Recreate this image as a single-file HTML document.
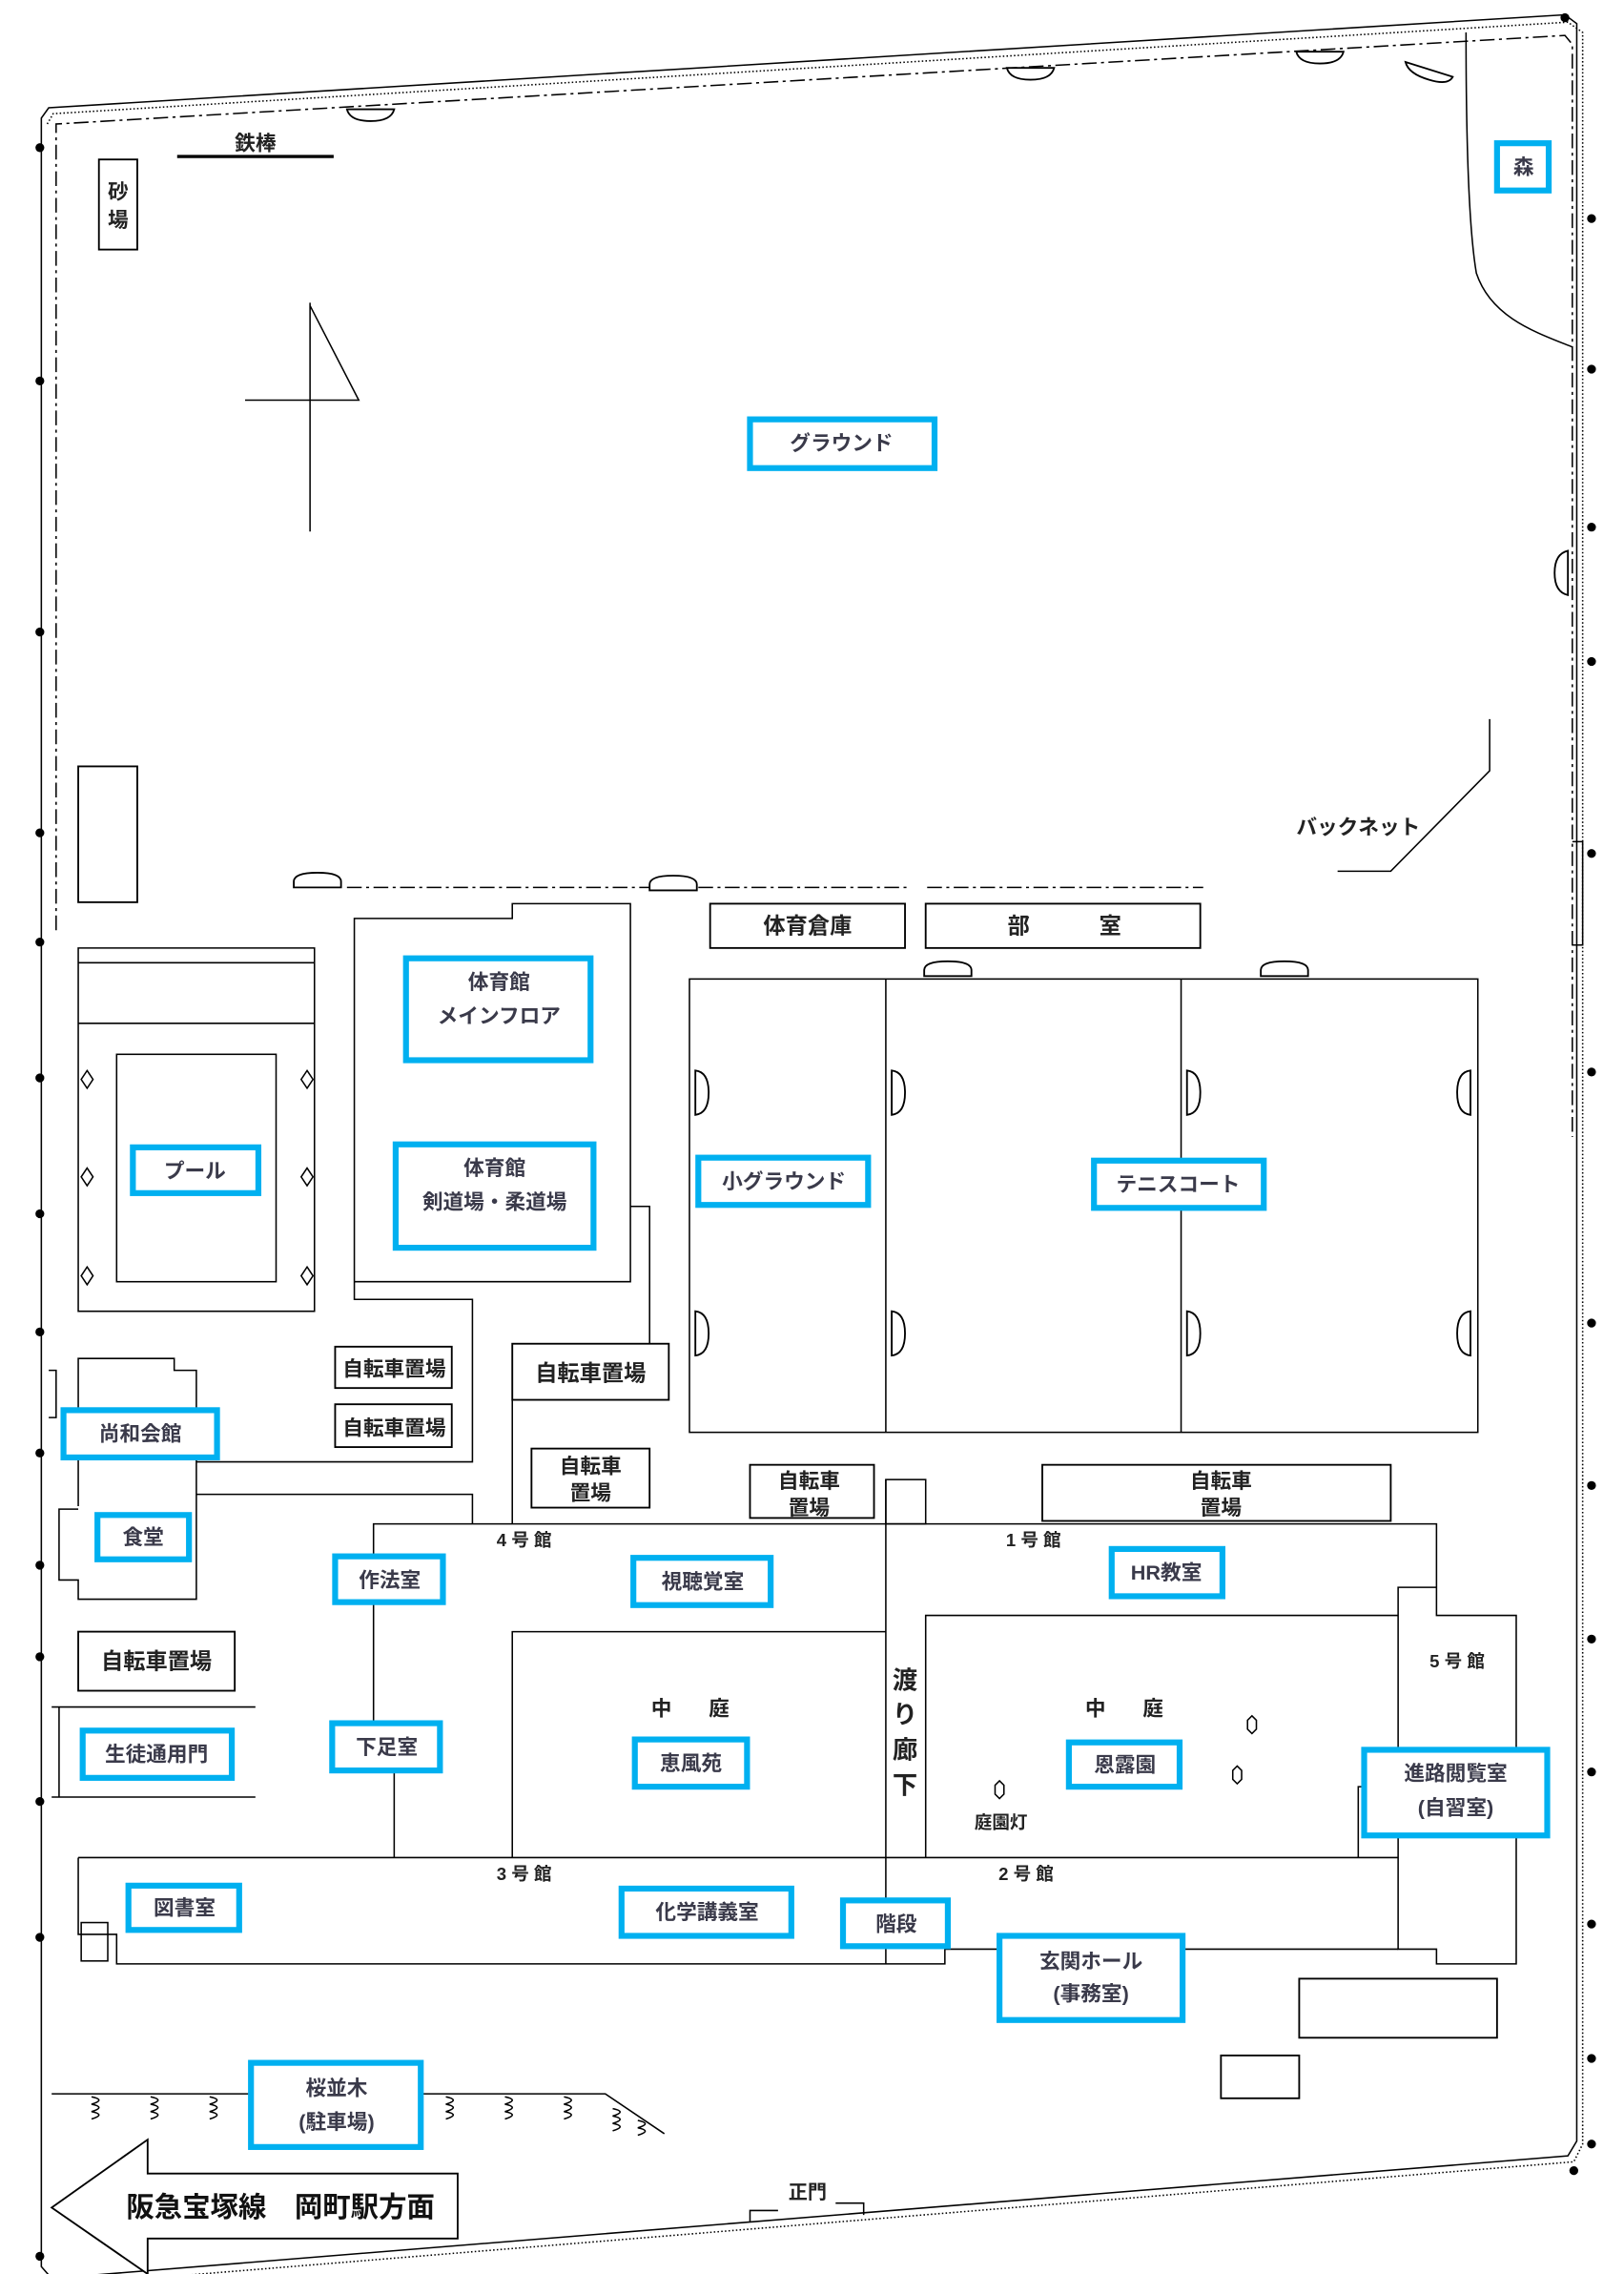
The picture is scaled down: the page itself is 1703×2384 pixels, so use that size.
<!DOCTYPE html>
<html><head><meta charset="utf-8"><style>
html,body{margin:0;padding:0;background:#fff}
svg{display:block}
text{font-family:"Liberation Sans","Noto Sans CJK JP",sans-serif;font-weight:bold;fill:#222;text-anchor:middle;dominant-baseline:central}
.b{fill:#fff;stroke:#00b0f0;stroke-width:4}
.l{fill:none;stroke:#000;stroke-width:1}
.k{fill:#fff;stroke:#000;stroke-width:1.2}
.t{font-size:14px;fill:#3a3a4a}
</style></head><body>
<svg width="1703" height="2384" viewBox="0 0 1100 1540" preserveAspectRatio="none" xmlns="http://www.w3.org/2000/svg">
<!-- outer boundary -->
<path class="l" d="M28 80 L33 73 L1060 10 L1068 16 L1068 1450 L1062 1460 L35 1543 L28 1535 Z" stroke-width="1.3"/>
<path class="l" d="M32 84 L36 77 L1062 15 L1072 22 L1072 1452 L1066 1464 L38 1548" stroke-dasharray="1 1.5" stroke-width="0.8"/>
<path class="l" d="M38 630 L38 84 L1060 24 L1065 30 L1065 770" stroke-dasharray="10 3 2 3"/>
<g fill="#000">
<circle cx="27" cy="100" r="3"/><circle cx="27" cy="258" r="3"/><circle cx="27" cy="428" r="3"/><circle cx="27" cy="564" r="3"/><circle cx="27" cy="638" r="3"/><circle cx="27" cy="730" r="3"/><circle cx="27" cy="822" r="3"/><circle cx="27" cy="902" r="3"/><circle cx="27" cy="984" r="3"/><circle cx="27" cy="1060" r="3"/><circle cx="27" cy="1122" r="3"/><circle cx="27" cy="1220" r="3"/><circle cx="27" cy="1312" r="3"/><circle cx="27" cy="1528" r="3"/>
<circle cx="1060" cy="12" r="3"/><circle cx="1078" cy="148" r="3"/><circle cx="1078" cy="250" r="3"/><circle cx="1078" cy="357" r="3"/><circle cx="1078" cy="448" r="3"/><circle cx="1078" cy="578" r="3"/><circle cx="1078" cy="726" r="3"/><circle cx="1078" cy="896" r="3"/><circle cx="1078" cy="1006" r="3"/><circle cx="1078" cy="1110" r="3"/><circle cx="1078" cy="1200" r="3"/><circle cx="1078" cy="1303" r="3"/><circle cx="1078" cy="1394" r="3"/><circle cx="1078" cy="1452" r="3"/><circle cx="1066" cy="1470" r="3"/>
</g>
<!-- lamps top -->
<g class="k">
<path d="M235 74 h32 q-2 8 -16 8 q-14 0 -16 -8z"/>
<path d="M682 46 h32 q-2 8 -16 8 q-14 0 -16 -8z"/>
<path d="M878 35 h32 q-2 8 -16 8 q-14 0 -16 -8z"/>
<path d="M952 42 l32 10 q-3 6 -16 2 q-14 -4 -16 -12z"/>
<path d="M1062 373 v30 q-9 -2 -9 -15 q0 -13 9 -15z"/>
</g>
<!-- forest curve -->
<path class="l" d="M993 22 C993 80 994 150 1000 185 C1010 215 1040 225 1065 235"/>
<rect class="b" x="1014" y="97" width="35" height="32"/><text x="1032" y="113" class="t">森</text>
<!-- 鉄棒 -->
<text x="173" y="97" font-size="14">鉄棒</text>
<line x1="120" y1="106" x2="226" y2="106" stroke="#000" stroke-width="2.2"/>
<rect class="k" x="67" y="108" width="26" height="61"/>
<text x="80" y="130" font-size="14">砂</text><text x="80" y="149" font-size="14">場</text>
<!-- compass -->
<path class="l" d="M210 205 V360 M166 271 H243 L210 207"/>
<!-- ground -->
<rect class="b" x="508" y="284" width="125" height="33"/><text x="570" y="300" class="t" font-weight="normal">グラウンド</text>
<!-- backnet -->
<path class="l" d="M1009 487 V522 L942 590 H906"/>
<text x="920" y="560" font-size="14">バックネット</text>
<rect class="k" x="53" y="519" width="40" height="92"/>
<!-- dash dot line -->
<path class="l" d="M235 601 H440 M473 601 H615 M628 601 H815" stroke-dasharray="10 3 2 3"/>
<g class="k">
<path d="M199 601 v-4 q0 -6 16 -6 q16 0 16 6 v4z"/>
<path d="M440 603 v-4 q0 -6 16 -6 q16 0 16 6 v4z"/>
<path d="M626 661 v-4 q0 -6 16 -6 q16 0 16 6 v4z"/>
<path d="M854 661 v-4 q0 -6 16 -6 q16 0 16 6 v4z"/>
</g>
<path class="l" d="M1065 570 h7 v70 h-7"/>
<rect class="k" x="481" y="612" width="132" height="30"/><text x="547" y="627" font-size="15">体育倉庫</text>
<rect class="k" x="627" y="612" width="186" height="30"/><text x="690" y="627" font-size="15">部</text><text x="752" y="627" font-size="15">室</text>
<!-- tennis -->
<rect class="l" x="467" y="663" width="534" height="307"/>
<path class="l" d="M600 663 V970 M800 663 V970"/>
<g class="k">
<path d="M471 725 v30 q9 -1 9 -15 q0 -14 -9 -15z"/><path d="M604 725 v30 q9 -1 9 -15 q0 -14 -9 -15z"/><path d="M804 725 v30 q9 -1 9 -15 q0 -14 -9 -15z"/><path d="M996 725 v30 q-9 -1 -9 -15 q0 -14 9 -15z"/>
<path d="M471 888 v30 q9 -1 9 -15 q0 -14 -9 -15z"/><path d="M604 888 v30 q9 -1 9 -15 q0 -14 -9 -15z"/><path d="M804 888 v30 q9 -1 9 -15 q0 -14 -9 -15z"/><path d="M996 888 v30 q-9 -1 -9 -15 q0 -14 9 -15z"/>
</g>
<rect class="b" x="473" y="784" width="115" height="32"/><text x="531" y="800" class="t" font-weight="normal">小グラウンド</text>
<rect class="b" x="741" y="786" width="115" height="32"/><text x="798" y="802" class="t" font-weight="normal">テニスコート</text>
<!-- gym -->
<path class="l" d="M240 622 H347 V612 H427 V868 H240 Z M240 868 V880 H320 V990 H133 M427 817 H440 V910 M133 1012 H320 V1032"/>
<rect class="b" x="275" y="649" width="125" height="69"/><text x="338" y="665" class="t">体育館</text><text x="338" y="688" class="t" font-weight="normal">メインフロア</text>
<rect class="b" x="268" y="775" width="134" height="70"/><text x="335" y="791" class="t">体育館</text><text x="335" y="814" class="t">剣道場・柔道場</text>
<!-- pool -->
<path class="l" d="M53 888 V642 H213 V888 Z M53 652 H213 M53 693 H213"/>
<rect class="l" x="79" y="714" width="108" height="154"/>
<g class="l">
<path d="M59 725 l4 6 l-4 6 l-4 -6z"/><path d="M59 791 l4 6 l-4 6 l-4 -6z"/><path d="M59 858 l4 6 l-4 6 l-4 -6z"/>
<path d="M208 725 l4 6 l-4 6 l-4 -6z"/><path d="M208 791 l4 6 l-4 6 l-4 -6z"/><path d="M208 858 l4 6 l-4 6 l-4 -6z"/>
</g>
<rect class="b" x="90" y="777" width="85" height="31"/><text x="132" y="793" class="t" font-weight="normal">プール</text>
<!-- bike parks -->
<rect class="k" x="227" y="912" width="79" height="28"/><text x="267" y="927" font-size="14">自転車置場</text>
<rect class="k" x="227" y="951" width="79" height="29"/><text x="267" y="967" font-size="14">自転車置場</text>
<rect class="k" x="347" y="910" width="106" height="38"/><text x="400" y="930" font-size="15">自転車置場</text>
<rect class="k" x="360" y="981" width="80" height="40"/><text x="400" y="993" font-size="14">自転車</text><text x="400" y="1011" font-size="14">置場</text>
<rect class="k" x="508" y="992" width="84" height="36"/><text x="548" y="1003" font-size="14">自転車</text><text x="548" y="1021" font-size="14">置場</text>
<rect class="k" x="706" y="992" width="236" height="38"/><text x="827" y="1003" font-size="14">自転車</text><text x="827" y="1021" font-size="14">置場</text>
<rect class="l" x="600" y="1002" width="27" height="30"/>
<path class="l" d="M347 948 V1032"/>
<!-- shouwa -->
<path class="l" d="M53 1020 V920 H118 V928 H133 V1083 H53 V1070 H40 V1022 H53"/>
<path class="l" d="M33 928 h5 v32 h-5"/>
<rect class="b" x="43" y="955" width="104" height="32"/><text x="95" y="971" class="t">尚和会館</text>
<rect class="b" x="66" y="1026" width="62" height="30"/><text x="97" y="1041" class="t">食堂</text>
<!-- main buildings -->
<path class="l" d="M253 1190 V1032 H973 V1075 H947 V1258 M267 1190 H253 M267 1190 V1258 M973 1075 V1094 H1027 V1330 H973 V1320 H947 V1258"/>
<path class="l" d="M347 1258 V1105 H600 M627 1258 V1094 H947"/>
<path class="l" d="M600 1002 V1330"/>
<path class="l" d="M53 1258 H947 M53 1258 V1310 H79 V1330 H640 V1320 H947"/>
<rect class="l" x="55" y="1302" width="18" height="26"/>
<text x="355" y="1043" font-size="12">4 号 館</text><text x="700" y="1043" font-size="12">1 号 館</text>
<text x="355" y="1269" font-size="12">3 号 館</text><text x="695" y="1269" font-size="12">2 号 館</text>
<text x="987" y="1125" font-size="12">5 号 館</text>
<text x="613" y="1138" font-size="17">渡</text><text x="613" y="1161" font-size="17">り</text><text x="613" y="1185" font-size="17">廊</text><text x="613" y="1209" font-size="17">下</text>
<text x="448" y="1157" font-size="14">中</text><text x="487" y="1157" font-size="14">庭</text>
<text x="742" y="1157" font-size="14">中</text><text x="781" y="1157" font-size="14">庭</text>
<text x="678" y="1234" font-size="12">庭園灯</text>
<g class="l"><path d="M677 1206 l3 3 v6 l-3 3 l-3 -3 v-6z"/><path d="M848 1162 l3 3 v6 l-3 3 l-3 -3 v-6z"/><path d="M838 1196 l3 3 v6 l-3 3 l-3 -3 v-6z"/></g>
<path class="l" d="M920 1258 V1210 H924"/>
<rect class="b" x="227" y="1054" width="73" height="31"/><text x="264" y="1070" class="t">作法室</text>
<rect class="b" x="429" y="1055" width="93" height="32"/><text x="476" y="1071" class="t">視聴覚室</text>
<rect class="b" x="753" y="1049" width="75" height="32"/><text x="790" y="1065" class="t" font-weight="normal">HR教室</text>
<rect class="b" x="225" y="1167" width="73" height="32"/><text x="262" y="1183" class="t">下足室</text>
<rect class="b" x="430" y="1178" width="76" height="32"/><text x="468" y="1194" class="t">恵風苑</text>
<rect class="b" x="724" y="1180" width="75" height="30"/><text x="762" y="1195" class="t">恩露園</text>
<rect class="b" x="924" y="1185" width="124" height="58"/><text x="986" y="1201" class="t">進路閲覧室</text><text x="986" y="1224" class="t">(自習室)</text>
<rect class="b" x="87" y="1277" width="75" height="30"/><text x="125" y="1292" class="t">図書室</text>
<rect class="b" x="421" y="1279" width="115" height="32"/><text x="479" y="1295" class="t">化学講義室</text>
<rect class="b" x="571" y="1287" width="71" height="31"/><text x="607" y="1303" class="t">階段</text>
<rect class="b" x="677" y="1311" width="124" height="57"/><text x="739" y="1328" class="t" font-weight="normal">玄関ホール</text><text x="739" y="1350" class="t">(事務室)</text>
<!-- left lower -->
<rect class="k" x="53" y="1105" width="106" height="40"/><text x="106" y="1125" font-size="15">自転車置場</text>
<path class="l" d="M40 1156 H173 M40 1217 H173 M35 1156 h5 v61 h-5"/>
<rect class="b" x="56" y="1172" width="101" height="32"/><text x="106" y="1188" class="t">生徒通用門</text>
<rect class="k" x="880" y="1340" width="134" height="40"/>
<rect class="k" x="827" y="1392" width="53" height="29"/>
<!-- trees -->
<path class="l" d="M35 1418 H170 M285 1418 H410 L450 1445"/>
<g class="l">
<path d="M62 1420 q10 2 0 5 q10 2 0 5 q10 2 0 5"/><path d="M102 1420 q10 2 0 5 q10 2 0 5 q10 2 0 5"/><path d="M142 1420 q10 2 0 5 q10 2 0 5 q10 2 0 5"/>
<path d="M302 1420 q10 2 0 5 q10 2 0 5 q10 2 0 5"/><path d="M342 1420 q10 2 0 5 q10 2 0 5 q10 2 0 5"/><path d="M382 1420 q10 2 0 5 q10 2 0 5 q10 2 0 5"/><path d="M415 1428 q10 2 0 5 q10 2 0 5 q10 2 0 5"/><path d="M432 1436 q10 2 0 5 q10 2 0 5"/>
</g>
<rect class="b" x="170" y="1397" width="115" height="57"/><text x="228" y="1414" class="t" font-weight="normal">桜並木</text><text x="228" y="1437" class="t" font-weight="normal">(駐車場)</text>
<!-- arrow -->
<path class="k" d="M35 1495 L100 1449 V1472 H310 V1516 H100 V1540 Z"/>
<text x="190" y="1495" font-size="19" font-weight="normal" style="fill:#111">阪急宝塚線　岡町駅方面</text>
<!-- gate -->
<path class="l" d="M508 1505 V1497 H527 M566 1492 H585 V1500"/>
<text x="547" y="1485" font-size="13">正門</text>
</svg>
</body></html>
